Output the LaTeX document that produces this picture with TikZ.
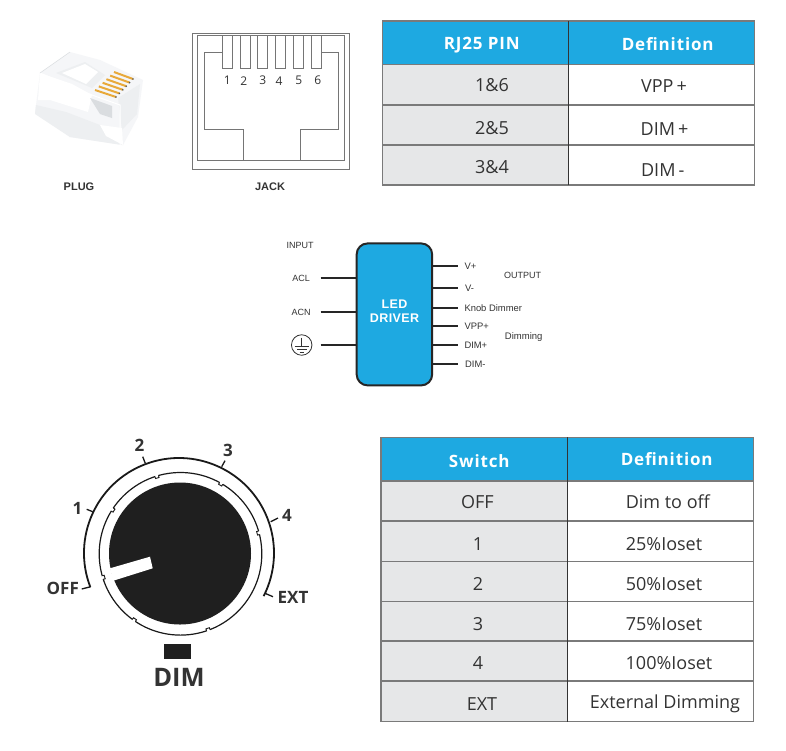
\documentclass[tikz,border=0pt]{standalone}
\usepackage{fontspec}
\setmainfont{Open Sans}
\newfontfamily\arl{Liberation Sans}
\definecolor{hdr}{HTML}{1EA9E1}
\definecolor{gcell}{HTML}{E6E7E8}
\definecolor{bline}{HTML}{7A7A7A}
\definecolor{ink}{HTML}{333333}
\definecolor{jline}{HTML}{757575}
\definecolor{gold}{HTML}{E8A93A}
\definecolor{clearA}{HTML}{EDEFF1}
\definecolor{clearB}{HTML}{F5F6F8}
\definecolor{clearC}{HTML}{DADDE0}
\tikzset{
  hcell/.style={text=white,font=\fontsize{17}{17}\selectfont\bfseries\addfontfeature{LetterSpace=5}},
  bcell/.style={text=ink,font=\fontsize{18}{18}\selectfont},
  sm/.style={text=ink,font=\arl\fontsize{9}{9}\selectfont,inner sep=0pt},
  wire/.style={line width=2pt,draw=black!85},
  jk/.style={draw=jline,line width=1pt},
  dial/.style={text=ink,font=\fontsize{17}{17}\selectfont\bfseries,inner sep=0pt},
  tick/.style={line width=1.3pt,draw=black!90},
  captext/.style={text=ink,font=\arl\bfseries\fontsize{11}{11}\selectfont,inner sep=0pt},
}
\begin{document}
\begin{tikzpicture}[x=1pt,y=-1pt]
\useasboundingbox (0,0) rectangle (786,750);
\fill[white] (0,0) rectangle (786,750);
% plug
\fill[clearB] (70,52) -- (100,60) -- (143,80) -- (138,117) -- (123,145) -- (70,137) -- (35,113) -- (40,73) -- cycle;
\fill[white] (40,73) -- (72,84) -- (92,95) -- (88,112) -- (50,100) -- (38,100) -- cycle;
\fill[clearA] (56,73) -- (85,62) -- (105,75) -- (92,88) -- cycle;
\fill[white] (62,73) -- (85,64) -- (98,72) -- (86,84) -- cycle;
\fill[clearA] (36,105) -- (66,112) -- (100,125) -- (122,145) -- (70,137) -- (35,114) -- cycle;
\fill[clearC] (90,98) -- (112,106) -- (112,118) -- (100,114) -- cycle;
\fill[clearA] (118,98) -- (140,84) -- (137,114) -- (122,130) -- cycle;
\fill[white] (100,125) -- (122,128) -- (123,145) -- (106,136) -- cycle;
\draw[white,line width=1pt] (40,73) -- (92,95) -- (120,105) -- (120,145);
\draw[clearC,line width=0.5pt] (40,73) -- (70,52);
\foreach \i in {0,...,5}{
  \draw[gold,line width=2pt] ({114-3.8*\i},{72+3.6*\i}) -- ({133-3.4*\i},{79+3.6*\i});
  \fill[black!65] ({133-3.4*\i},{79+3.6*\i}) circle (0.9);
}
\node[captext] (plug) at (79,187) {PLUG};
% jack
\draw[jk] (192.5,33) rectangle (349,169);
\draw[jk] (197.5,35.5) rectangle (344,160);
\draw[jk] (243,160) -- (243,129.5) -- (204.5,129.5) -- (204.5,52.7) -- (222.3,52.7);
\draw[jk] (300,160) -- (300,129.5) -- (338,129.5) -- (338,52.7) -- (321,52.7);
\foreach \x in {222.3,240,257.7,275.7,293.3,311}{
  \draw[jk] (\x,35.5) rectangle (\x+10,68.5);
}
\foreach \x/\t in {227.3/1,243.7/2,262.7/3,279/4,298.7/5,317.7/6}{
  \node[text=ink,font=\fontsize{12}{12}\selectfont,inner sep=0pt] (p\t) at (\x,80.7) {\t};
}
\node[captext] (jack) at (270,187) {JACK};
% table 1
\fill[hdr] (382.3,21) rectangle (754.3,64.5);
\fill[gcell] (382.3,64.5) rectangle (568.7,185);
\draw[bline,line width=1.2pt] (382.3,21) rectangle (754.3,185);
\draw[bline,line width=1.2pt] (382.3,64.5) -- (754.3,64.5) (382.3,105) -- (754.3,105) (382.3,145) -- (754.3,145);
\draw[black!80,line width=1pt] (568.7,21) -- (568.7,185);
\node[hcell] (t1a) at (481.7,45) {RJ25 PIN};
\node[hcell] (t1b) at (667.7,44.5) {Definition};
\node[bcell] (r1a) at (492,85) {1\&6};
\node[bcell] (r2a) at (492,128) {2\&5};
\node[bcell] (r3a) at (492,167) {3\&4};
\node[bcell] (r1b) at (664,86) {VPP\,+};
\node[bcell] (r2b) at (664.5,129.3) {DIM\,+};
\node[bcell] (r3b) at (662.7,170.5) {DIM\,-};
% driver
\node[draw=black!85,fill=hdr,line width=2pt,rounded corners=11pt,minimum width=75.5pt,minimum height=142pt,inner sep=0pt] (drv) at (394.4,314.4) {};
\node[text=white,font=\arl\bfseries\fontsize{12.5}{14}\selectfont\addfontfeature{LetterSpace=3},align=center,inner sep=0pt] (drvt) at (394.5,311) {LED\\DRIVER};
\node[sm] (input) at (300,245) {INPUT};
\node[sm] (acl) at (301,278) {ACL};
\node[sm] (acn) at (301,312) {ACN};
\coordinate (w1) at (320.7,277.5);
\coordinate (w2) at (320.7,311.5);
\coordinate (w3) at (320.7,345);
\draw[wire] (w1) -- (drv.west |- w1);
\draw[wire] (w2) -- (drv.west |- w2);
\draw[wire] (w3) -- (drv.west |- w3);
\node[draw=ink,circle,line width=0.8pt,minimum size=20.5pt,inner sep=0pt] (gnd) at (301.7,345) {};
\draw[ink,line width=0.8pt] (301.7,337.5) -- (301.7,346) (294.5,346) -- (309,346) (297,349) -- (306.5,349) (299.5,352) -- (304,352);
\foreach \y/\t/\n/\lx in {266/V+/a/464.3,288/V-/b/465,308/Knob Dimmer/c/464.3,326/VPP+/d/464.3,345/DIM+/e/464.3,364/DIM-/f/465}{
  \node[sm,anchor=west,font=\arl\fontsize{9.4}{9.4}\selectfont] (o\n) at (\lx,\y) {\t};
  \coordinate (e\n) at (458,\y);
  \draw[wire] (drv.east |- e\n) -- (e\n);
}
\node[sm] (output) at (522.7,275) {OUTPUT};
\node[sm,font=\arl\fontsize{9.5}{9.5}\selectfont] (dimming) at (523.7,337.5) {Dimming};
% knob
\fill[black!88] (180,553.5) circle (71);
\draw[line width=1.2pt,black!90] (180.5,553.8) circle (81.3);
\foreach \a in {-107,-60,-15,-147,163,125,70}{
  \draw[white,line width=2.2pt] (180.5,553.8) ++(\a-1.1:81.3) arc[start angle=\a-1.1,end angle=\a+1.1,radius=81.3];
  \draw[black!90,line width=0.9pt] (180.5,553.8) ++(\a-1.3:81.3) -- ++(\a-1.3:-2) arc[start angle=\a-1.3,end angle=\a+1.3,radius=79.3] -- ++(\a+1.3:2);
}
\draw[line width=1.8pt,black!90] (179,553) ++(-201:95) arc[start angle=-201,end angle=27,radius=95];
\fill[white] (110,568.3) -- (150,556.7) -- (152.7,568.3) -- (113.3,580.7) -- cycle;
\draw[tick] (90.7,586.7) -- (81.7,589);
\draw[tick] (92.7,511.7) -- (86.7,509.3);
\draw[tick] (145.3,463.3) -- (142.7,456.7);
\draw[tick] (221.7,466.7) -- (225,460.7);
\draw[tick] (270.7,521.7) -- (278,518);
\draw[tick] (265,593.3) -- (273,596.7);
\fill[black!88] (164,644) rectangle (191,659);
\node[dial] (off) at (62.8,588) {OFF};
\node[dial] (d1) at (77.5,508) {1};
\node[dial] (d2) at (139.5,445) {2};
\node[dial] (d3) at (228,450.5) {3};
\node[dial] (d4) at (287,515) {4};
\node[dial] (ext) at (293,597) {EXT};
\node[text=ink,font=\fontsize{25.5}{26}\selectfont\bfseries,inner sep=0pt] (dim) at (179,677) {DIM};
% table 2
\fill[hdr] (381,437.3) rectangle (753.7,481);
\fill[gcell] (381,481) rectangle (567.3,721.7);
\draw[bline,line width=1.2pt] (381,437.3) rectangle (753.7,721.7);
\foreach \y in {481,521,561.3,601.3,641,681}{\draw[bline,line width=1.2pt] (381,\y) -- (753.7,\y);}
\draw[black!80,line width=1pt] (567.3,437.3) -- (567.3,721.7);
\node[hcell] (s0a) at (479.3,461) {Switch};
\node[hcell] (s0b) at (666.7,459) {Definition};
\foreach \y/\a/\b/\n/\ax/\bx in {501.7/OFF/Dim to off/1/477.3/667.8,544/1/25\%Ioset/2/478/664,584/2/50\%Ioset/3/478/664,624/3/75\%Ioset/4/478/664,663.3/4/100\%Ioset/5/478/669,704/EXT/External Dimming/6/482/665}{
  \node[bcell] (sa\n) at (\ax,\y) {\a};
  \node[bcell] (sb\n) at (\bx,\y) {\b};
}
\end{tikzpicture}
\end{document}
